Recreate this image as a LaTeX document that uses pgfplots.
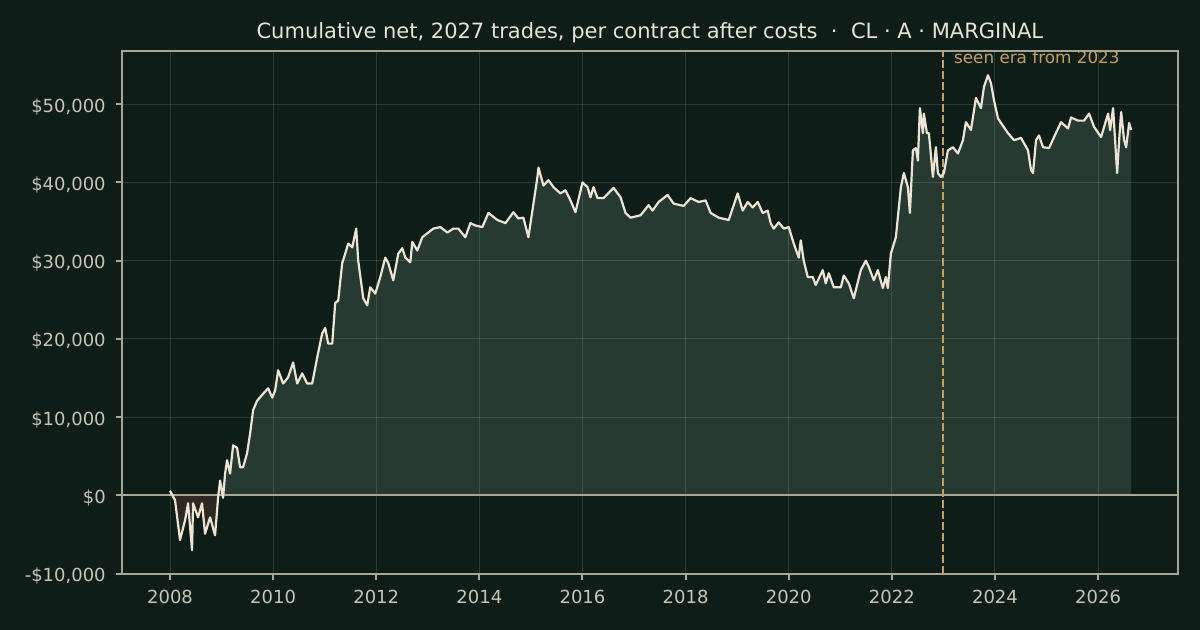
\documentclass[border=0pt]{standalone}
\usepackage{fontspec}
\setmainfont{DejaVu Sans}
\usepackage{xcolor}
\usepackage{pgfplots}
\pgfplotsset{compat=1.18}
\usepackage{pgfplotstable}

\definecolor{bg}{RGB}{15,29,24}
\definecolor{fillpos}{RGB}{39,58,50}
\definecolor{fillneg}{RGB}{46,40,35}
\definecolor{curve}{RGB}{236,228,212}
\definecolor{spine}{RGB}{170,166,150}
\definecolor{tickc}{RGB}{200,196,182}
\definecolor{titlec}{RGB}{232,228,216}
\definecolor{era}{RGB}{196,160,100}
\pagecolor{bg}

% cumulative net per contract, dollars
\pgfplotstableread{
year val
2008.000 600
2008.097 -600
2008.194 -5700
2008.291 -3200
2008.350 -1000
2008.427 -7000
2008.447 -1000
2008.544 -2800
2008.621 -1000
2008.680 -4900
2008.777 -2800
2008.874 -5100
2008.932 -300
2008.971 1900
2009.029 -300
2009.068 2800
2009.107 4500
2009.165 2800
2009.223 6400
2009.301 6100
2009.359 3600
2009.417 3600
2009.495 5400
2009.553 7900
2009.612 10900
2009.689 12100
2009.806 13000
2009.903 13700
2009.981 12500
2010.039 13400
2010.097 16000
2010.194 14300
2010.291 15100
2010.388 17000
2010.466 14300
2010.563 15600
2010.660 14300
2010.757 14300
2010.854 17600
2010.951 20700
2011.010 21400
2011.068 19400
2011.146 19400
2011.204 24600
2011.262 24900
2011.340 29700
2011.398 30900
2011.456 32200
2011.534 31700
2011.612 34100
2011.650 30000
2011.748 25200
2011.825 24300
2011.883 26600
2011.981 25800
2012.078 27900
2012.175 30400
2012.233 29700
2012.330 27500
2012.427 30900
2012.505 31600
2012.563 30400
2012.660 29800
2012.699 32400
2012.796 31300
2012.893 33000
2012.990 33500
2013.107 34100
2013.243 34300
2013.379 33600
2013.495 34100
2013.592 34100
2013.728 33000
2013.825 34800
2013.922 34500
2014.058 34300
2014.175 36100
2014.350 35200
2014.505 34800
2014.660 36200
2014.757 35400
2014.854 35500
2014.951 33000
2015.049 37300
2015.126 40700
2015.146 41900
2015.243 39600
2015.340 40300
2015.437 39400
2015.573 38600
2015.670 39000
2015.767 37700
2015.864 36200
2016.000 40000
2016.097 39400
2016.155 38100
2016.214 39400
2016.291 38000
2016.408 38000
2016.602 39300
2016.738 38100
2016.835 36100
2016.932 35500
2017.126 35800
2017.282 37100
2017.359 36400
2017.476 37500
2017.650 38400
2017.767 37300
2017.961 37000
2018.097 38000
2018.252 37500
2018.388 37700
2018.485 36100
2018.641 35500
2018.835 35200
2019.010 38600
2019.107 36400
2019.204 37500
2019.301 36800
2019.398 37500
2019.495 36100
2019.592 36400
2019.650 34800
2019.709 34100
2019.806 34900
2019.903 34100
2020.000 34300
2020.097 32200
2020.194 30400
2020.233 32600
2020.291 30000
2020.369 27900
2020.466 27900
2020.524 26900
2020.660 28800
2020.718 27100
2020.777 28400
2020.874 26600
2021.010 26600
2021.068 28100
2021.165 27100
2021.262 25200
2021.398 28800
2021.495 30000
2021.553 29200
2021.650 27500
2021.728 28800
2021.825 26500
2021.883 27900
2021.922 26500
2021.981 30900
2022.078 33000
2022.175 39400
2022.233 41200
2022.311 39400
2022.350 36100
2022.408 44100
2022.466 44400
2022.505 42800
2022.544 49500
2022.602 46300
2022.621 48800
2022.680 46300
2022.718 46300
2022.796 40700
2022.854 44500
2022.893 41200
2022.951 40700
2023.010 41200
2023.087 44100
2023.184 44500
2023.282 43700
2023.379 45400
2023.437 47700
2023.534 46700
2023.631 50800
2023.728 49500
2023.786 52200
2023.864 53700
2023.922 52700
2023.981 50500
2024.058 48200
2024.117 47600
2024.252 46300
2024.369 45400
2024.505 45700
2024.641 44100
2024.699 41600
2024.738 41200
2024.796 45400
2024.854 46000
2024.932 44500
2025.049 44400
2025.146 45800
2025.282 47700
2025.417 46900
2025.476 48300
2025.612 47900
2025.728 47900
2025.825 48800
2025.922 47100
2026.058 45800
2026.117 47100
2026.194 48800
2026.233 46700
2026.291 49500
2026.330 45400
2026.369 41200
2026.408 45400
2026.447 49000
2026.505 45400
2026.544 44500
2026.602 47600
2026.641 46700
}\cumnet

\begin{document}
\begin{tikzpicture}
\path (0,0) rectangle (600bp,315bp);
\begin{axis}[
  set layers,
  at={(60.85bp,28.15bp)}, anchor=south west,
  scale only axis,
  width=528.15bp, height=261.35bp,
  xmin=2007.063, xmax=2027.55,
  ymin=-10000, ymax=56800,
  scaled y ticks=false,
  axis line style={spine, line width=1bp},
  tick style={spine, line width=1bp},
  major tick length=3bp,
  tick align=outside,
  tick pos=left,
  xtick={2008,2010,...,2026},
  xticklabels={2008,2010,2012,2014,2016,2018,2020,2022,2024,2026},
  ytick={-10000,0,10000,20000,30000,40000,50000},
  yticklabels={{-\$10,000},{\$0},{\$10,000},{\$20,000},{\$30,000},{\$40,000},{\$50,000}},
  xticklabel style={font=\fontsize{9bp}{11bp}\selectfont, text=tickc, inner sep=0pt, anchor=base, yshift=-11.8bp},
  yticklabel style={font=\fontsize{9bp}{11bp}\selectfont, text=tickc, inner sep=0pt, anchor=base east, xshift=-4.8bp, yshift=-4bp},
  grid=major,
  major grid style={white, draw opacity=0.12, line width=0.5bp},
  title={Cumulative net, 2027 trades, per contract after costs\ \ ·\ \ CL · A · MARGINAL},
  title style={font=\fontsize{10.5bp}{12bp}\selectfont, text=titlec, inner sep=0pt, at={(0.5,1)}, anchor=base, yshift=0.35bp},
]
% shaded area above and below zero, under the grid
\addplot[on layer=axis background, fill=fillpos, draw=none, forget plot]
  table[x=year, y expr={max(\thisrow{val},0)}]{\cumnet}
  -- (axis cs:2026.641,0) -- (axis cs:2008,0) -- cycle;
\addplot[on layer=axis background, fill=fillneg, draw=none, forget plot]
  table[x=year, y expr={min(\thisrow{val},0)}]{\cumnet}
  -- (axis cs:2026.641,0) -- (axis cs:2008,0) -- cycle;
\draw[spine, line width=1bp] ({rel axis cs:0,0}|-{axis cs:2010,0}) -- ({rel axis cs:1,0}|-{axis cs:2010,0});
\draw[era, line width=1bp, dash pattern=on 3.8bp off 1.7bp] ({axis cs:2023,0}|-{rel axis cs:0,0}) -- ({axis cs:2023,0}|-{rel axis cs:0,1});
\node[anchor=base west, inner sep=0pt, text=era, font=\fontsize{8.4bp}{10bp}\selectfont, xshift=5.15bp, yshift=-6.5bp] at ({axis cs:2023,0}|-{rel axis cs:0,1}) {seen era from 2023};
\addplot[curve, line width=1.1bp, line join=round] table[x=year, y=val]{\cumnet};
\end{axis}
\pgfresetboundingbox
\useasboundingbox (0,0) rectangle (600bp,315bp);
\end{tikzpicture}
\end{document}
